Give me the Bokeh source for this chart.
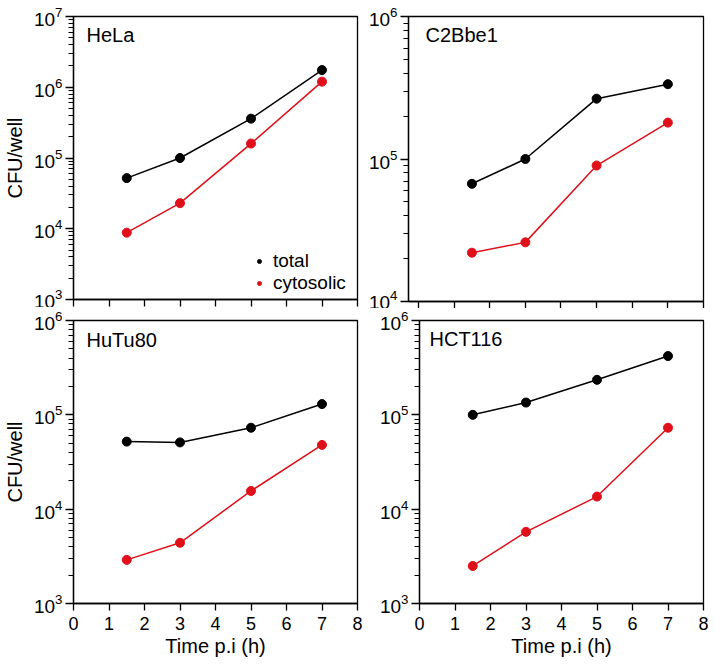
from bokeh.plotting import figure
from bokeh.layouts import column, row
from bokeh.models import Range1d, Label, Legend, LegendItem, FixedTicker, LogTickFormatter
from bokeh.embed import file_html
from bokeh.resources import INLINE

# ---------------- data ----------------
times = [1.5, 3, 5, 7]
x_ticks = [0, 1, 2, 3, 4, 5, 6, 7, 8]

hela_total = [5.2e4, 1.0e5, 3.6e5, 1.75e6]
hela_cyto = [8.8e3, 2.3e4, 1.6e5, 1.2e6]

c2bbe1_total = [6.7e4, 1.0e5, 2.65e5, 3.35e5]
c2bbe1_cyto = [2.2e4, 2.6e4, 9.0e4, 1.8e5]

hutu80_total = [5.2e4, 5.1e4, 7.3e4, 1.3e5]
hutu80_cyto = [2.9e3, 4.4e3, 1.56e4, 4.8e4]

hct116_total = [1.0e5, 1.35e5, 2.35e5, 4.2e5]
hct116_cyto = [2.5e3, 5.75e3, 1.36e4, 7.3e4]

hela_decades = [1e3, 1e4, 1e5, 1e6, 1e7]
c2bbe1_decades = [1e4, 1e5, 1e6]
hutu80_decades = [1e3, 1e4, 1e5, 1e6]
hct116_decades = [1e3, 1e4, 1e5, 1e6]

series_names = ["total", "cytosolic"]
x_title = "Time p.i (h)"
y_title = "CFU/well"

# ---------------- style ----------------
FONT = "Liberation Sans"
RED = "#e0101b"
BLACK = "#000000"


def minors(decades):
    out = []
    for d in decades[:-1]:
        out += [m * d for m in range(2, 10)]
    return out


def legend_box(label, renderer, loc):
    lg = Legend(items=[LegendItem(label=label, renderers=[renderer])], location=loc)
    lg.border_line_color = None
    lg.background_fill_alpha = 0
    lg.label_text_font = FONT
    lg.label_text_font_size = "19px"
    lg.label_text_color = "black"
    lg.glyph_width = 10
    lg.glyph_height = 10
    lg.label_standoff = 9
    lg.label_height = 19
    lg.spacing = 0
    lg.padding = 0
    lg.margin = 0
    return lg


def panel(name, total, cyto, decades, frame_w, frame_h, borders,
          show_xlabels, show_ylabel, name_off, x_start=0, legend=False):
    l, r, t, b = borders
    p = figure(frame_width=frame_w, frame_height=frame_h, y_axis_type="log",
               x_range=Range1d(x_start, 8), y_range=Range1d(decades[0], decades[-1]),
               output_backend="svg", toolbar_location=None,
               min_border_left=l, min_border_right=r, min_border_top=t, min_border_bottom=b)
    p.grid.visible = False
    p.background_fill_color = "white"
    p.border_fill_color = "white"
    p.outline_line_color = "black"
    p.outline_line_width = 1.3
    p.outline_line_alpha = 1.0

    xa = p.xaxis[0]
    xa.ticker = FixedTicker(ticks=x_ticks, minor_ticks=[])
    xa.major_tick_out = 7
    xa.major_tick_in = 0
    xa.minor_tick_out = 0
    xa.minor_tick_in = 0
    xa.axis_line_width = 1.3
    xa.major_tick_line_width = 1.3
    xa.major_label_text_font = FONT
    if show_xlabels:
        xa.major_label_text_color = "black"
        xa.major_label_text_font_size = "18px"
        xa.major_label_standoff = 6
        xa.axis_label = x_title
        xa.axis_label_text_font = FONT
        xa.axis_label_text_font_size = "20px"
        xa.axis_label_text_font_style = "normal"
        xa.axis_label_text_color = "black"
        xa.axis_label_standoff = 2
    else:
        xa.major_label_text_color = None
        xa.major_label_text_font_size = "0px"
        xa.major_label_standoff = 0

    ya = p.yaxis[0]
    ya.ticker = FixedTicker(ticks=decades, minor_ticks=minors(decades))
    ya.formatter = LogTickFormatter()
    ya.major_tick_out = 8
    ya.major_tick_in = 0
    ya.minor_tick_out = 5
    ya.minor_tick_in = 0
    ya.axis_line_width = 1.3
    ya.major_tick_line_width = 1.3
    ya.minor_tick_line_width = 1.2
    ya.major_label_text_font = FONT
    ya.major_label_text_font_size = "19px"
    ya.major_label_text_color = "black"
    ya.major_label_standoff = 3
    if show_ylabel:
        ya.axis_label = y_title
        ya.axis_label_text_font = FONT
        ya.axis_label_text_font_size = "20px"
        ya.axis_label_text_font_style = "normal"
        ya.axis_label_text_color = "black"
        ya.axis_label_standoff = 5

    p.line(times, total, line_width=1.5, color=BLACK)
    p.line(times, cyto, line_width=1.5, color=RED)
    s1 = p.scatter(times, total, size=9, color=BLACK)
    s2 = p.scatter(times, cyto, size=9, color=RED)

    p.add_layout(Label(x=name_off[0], y=frame_h - name_off[1], x_units="screen", y_units="screen",
                       text=name, text_font=FONT, text_font_size="20px",
                       text_baseline="top", text_align="left", text_color="black"))

    if legend:
        p.add_layout(legend_box(series_names[0], s1, (181, 27)))
        p.add_layout(legend_box(series_names[1], s2, (181, 5)))
    return p


p1 = panel("HeLa", hela_total, hela_cyto, hela_decades, 284, 283, (73, 5, 16, 8),
           False, True, (13, 7), legend=True)
p2 = panel("C2Bbe1", c2bbe1_total, c2bbe1_cyto, c2bbe1_decades, 295, 285, (46, 8, 16, 6),
           False, False, (17, 7), x_start=-0.28)
p3 = panel("HuTu80", hutu80_total, hutu80_cyto, hutu80_decades, 284, 283, (73, 6, 12, 58),
           True, True, (13, 8))
p4 = panel("HCT116", hct116_total, hct116_cyto, hct116_decades, 284, 283, (56, 8, 12, 58),
           True, False, (10, 7))

layout = column(row(p1, p2), row(p3, p4))
open("out.html", "w").write(file_html(layout, INLINE))
